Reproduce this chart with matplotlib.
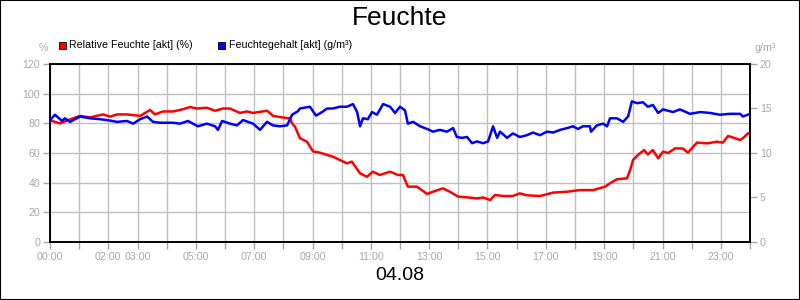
import matplotlib
matplotlib.use("Agg")
import matplotlib.pyplot as plt
from matplotlib.patches import Rectangle

plt.rcParams['font.family'] = ['Liberation Sans', 'DejaVu Sans']

title = "Feuchte"
date_label = "04.08"
label_rel = "Relative Feuchte [akt] (%)"
label_abs = "Feuchtegehalt [akt] (g/m³)"
left_unit = "%"
right_unit = "g/m³"

rel_hours = [0.0, 0.34, 0.79, 1.03, 1.37, 1.82, 2.06, 2.30, 2.64, 3.09, 3.43, 3.6, 3.87, 4.22,
             4.56, 4.8, 5.04, 5.38, 5.66, 5.93, 6.17, 6.51, 6.75, 6.96, 7.44, 7.65, 8.13, 8.23,
             8.30, 8.4, 8.57, 8.81, 9.02, 9.26, 9.5, 9.7, 9.94, 10.18, 10.35, 10.63, 10.87,
             11.07, 11.31, 11.66, 11.93, 12.1, 12.27, 12.58, 12.93, 13.13, 13.47, 13.71, 13.99,
             14.3, 14.64, 14.85, 15.09, 15.26, 15.53, 15.87, 16.11, 16.35, 16.8, 17.25, 17.73,
             18.17, 18.62, 19.03, 19.2, 19.44, 19.78, 19.89, 19.99, 20.16, 20.37, 20.5, 20.67,
             20.85, 21.02, 21.19, 21.43, 21.7, 21.87, 22.18, 22.53, 22.87, 23.07, 23.25, 23.49,
             23.66, 23.76, 23.93, 24.0]
rel_values = [82, 80, 83.4, 85, 84, 86, 84.5, 86, 86, 85, 89, 86, 88, 88,
              89.5, 91, 90, 90.5, 88.5, 90, 90, 87, 88, 87, 88.5, 85, 83.5, 83.4,
              80, 77.7, 70, 67.6, 61, 60.2, 58.7, 57.5, 55.3, 53, 54.2, 46.3, 44,
              47.4, 45.2, 47.4, 45.2, 45.2, 37.3, 37.3, 32.4, 33.9, 36.2, 33.9, 30.6,
              30.1, 29.4, 30, 28.3, 31.7, 31, 31, 32.8, 31.5, 31, 33.3, 33.9,
              35, 35, 37.3, 39.6, 42.3, 42.9, 48.5, 55.3, 58.7, 62, 59, 62,
              56.4, 60.9, 60, 63.1, 63, 60.2, 67, 66.5, 67.6, 67, 71.5, 69.9,
              68.8, 70, 73.3, 73]

abs_hours = [0.0, 0.17, 0.41, 0.51, 0.69, 1.03, 1.37, 1.71, 1.95, 2.30, 2.64, 2.85, 3.09, 3.33,
             3.53, 3.77, 4.22, 4.46, 4.73, 5.07, 5.38, 5.66, 5.76, 5.90, 6.17, 6.41, 6.62, 6.96,
             7.2, 7.44, 7.65, 7.89, 8.13, 8.30, 8.5, 8.57, 8.91, 9.12, 9.33, 9.5, 9.7, 9.94,
             10.18, 10.39, 10.53, 10.63, 10.73, 10.9, 11.04, 11.21, 11.42, 11.66, 11.83, 12.0,
             12.17, 12.27, 12.45, 12.69, 12.93, 13.13, 13.37, 13.61, 13.82, 13.95, 14.13, 14.3,
             14.47, 14.64, 14.85, 15.02, 15.19, 15.33, 15.43, 15.67, 15.87, 16.11, 16.35, 16.56,
             16.8, 17.04, 17.25, 17.49, 17.73, 17.93, 18.1, 18.27, 18.51, 18.55, 18.75, 18.96,
             19.1, 19.2, 19.44, 19.65, 19.82, 19.95, 20.13, 20.33, 20.5, 20.67, 20.85, 21.02,
             21.36, 21.6, 21.94, 22.29, 22.63, 22.97, 23.31, 23.66, 23.76, 24.0]
abs_values = [13.7, 14.3, 13.6, 13.9, 13.5, 14.1, 13.9, 13.8, 13.7, 13.5, 13.6, 13.3, 13.8, 14.1,
              13.5, 13.4, 13.4, 13.3, 13.6, 13.0, 13.3, 13.0, 12.6, 13.6, 13.3, 13.1, 13.7, 13.3,
              12.6, 13.5, 13.1, 13.0, 13.1, 14.3, 14.7, 15.0, 15.2, 14.2, 14.6, 15.0, 15.0, 15.2,
              15.2, 15.5, 14.6, 13.0, 13.9, 13.8, 14.6, 14.3, 15.5, 15.2, 14.5, 15.2,
              14.8, 13.3, 13.5, 13.0, 12.7, 12.4, 12.6, 12.4, 12.8, 11.8, 11.7, 11.8,
              11.1, 11.3, 11.1, 11.3, 13.0, 11.7, 12.4, 11.7, 12.2, 11.8, 12.0, 12.3,
              12.0, 12.4, 12.3, 12.6, 12.8, 13.0, 12.7, 13.0, 13.0, 12.4, 13.1, 13.3,
              13.0, 13.9, 13.9, 13.5, 14.1, 15.8, 15.6, 15.7, 15.2, 15.4, 14.5, 14.9,
              14.6, 14.9, 14.4, 14.6, 14.5, 14.3, 14.4, 14.4, 14.1, 14.4]

x_ticks = list(range(0, 25))
x_labels = {0: "00:00", 2: "02:00", 3: "03:00", 5: "05:00", 7: "07:00", 9: "09:00",
            11: "11:00", 13: "13:00", 15: "15:00", 17: "17:00", 19: "19:00", 21: "21:00",
            23: "23:00"}
left_ticks = [0, 20, 40, 60, 80, 100, 120]
right_ticks = [0, 5, 10, 15, 20]

gray = "#a8a8a8"
grid_gray = "#c0c0c0"

fig = plt.figure(figsize=(8, 3), dpi=100)
fig.patches.append(Rectangle((0, 0), 1, 1, transform=fig.transFigure, fill=False,
                             edgecolor="black", linewidth=1.5))
ax = fig.add_axes([50/800, 1-242/300, 700/800, 178/300])
ax2 = ax.twinx()

ax.set_xlim(0, 24)
ax.set_ylim(0, 120)
ax2.set_ylim(0, 20)

ax.set_xticks(x_ticks)
ax.set_xticklabels([x_labels.get(t, "") for t in x_ticks])
ax.set_yticks(left_ticks)
ax2.set_yticks(right_ticks)

ax.grid(True, color=grid_gray, linewidth=1)
ax.set_axisbelow(True)

for a in (ax, ax2):
    for s in a.spines.values():
        s.set_color("black")
        s.set_linewidth(1.2)
    a.tick_params(colors=gray, labelcolor=gray, labelsize=7.7, length=5, width=1, direction="out")
ax.tick_params(axis='x', pad=2)
ax.tick_params(axis='y', pad=2)
ax2.tick_params(axis='y', pad=2)

ax.plot(rel_hours, rel_values, color="#ff0000", linewidth=1.8, zorder=3)
ax2.plot(abs_hours, abs_values, color="#0000ff", linewidth=1.8, zorder=3)

fig.text(0.5, 1-18/300, title, ha="center", va="center", fontsize=19, color="black")
fig.text(0.5, 1-276/300, date_label, ha="center", va="center", fontsize=14, color="black")

fig.patches.append(Rectangle((59/800, 1-49/300), 7/800, 7/300, transform=fig.transFigure,
                             facecolor="#ff0000", edgecolor="black", linewidth=0.6))
fig.text(69/800, 1-45/300, label_rel, ha="left", va="center", fontsize=7.7, color="black")
fig.patches.append(Rectangle((218/800, 1-49/300), 7/800, 7/300, transform=fig.transFigure,
                             facecolor="#0000ff", edgecolor="black", linewidth=0.6))
fig.text(229/800, 1-45/300, label_abs, ha="left", va="center", fontsize=7.7, color="black")

fig.text(43/800, 1-48/300, left_unit, ha="center", va="center", fontsize=7.7, color=gray)
fig.text(765/800, 1-48/300, right_unit, ha="center", va="center", fontsize=7.7, color=gray)

fig.savefig("out.png", dpi=100)
